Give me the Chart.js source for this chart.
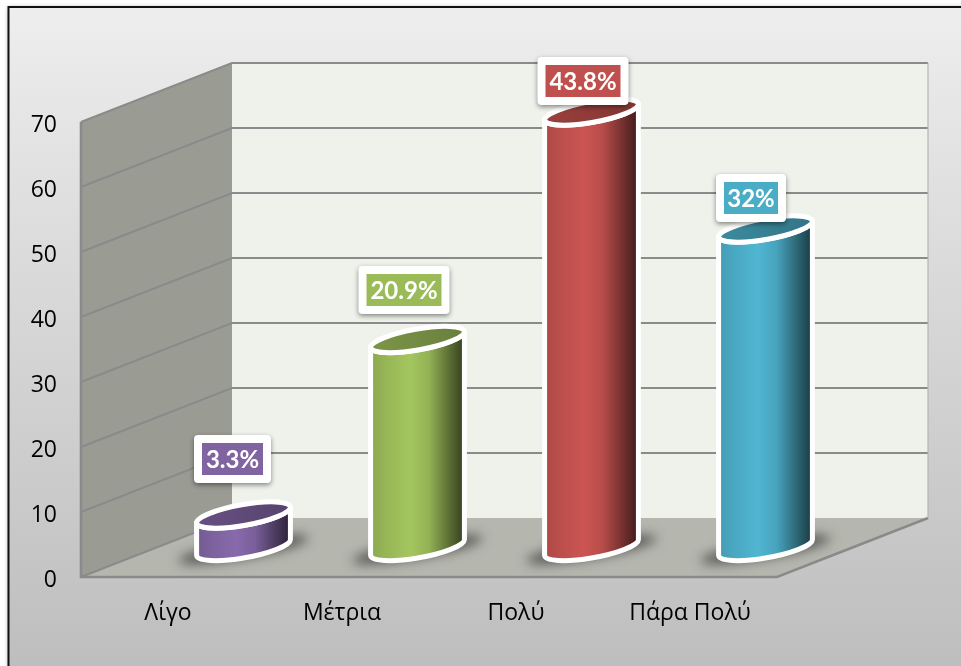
<!DOCTYPE html>
<html>
<head>
<meta charset="utf-8">
<style>html,body{margin:0;padding:0;background:#fff}canvas{display:block}</style>
<script src="https://cdn.jsdelivr.net/npm/chart.js@4"></script>
</head>
<body>
<canvas id="c" width="961" height="666"></canvas>
<script>
const categories = ['Λίγο', 'Μέτρια', 'Πολύ', 'Πάρα Πολύ'];
const counts = [5, 32, 67, 49];
const percentLabels = ['3.3%', '20.9%', '43.8%', '32%'];
const barColors = ['#8064a2', '#9bbb59', '#c0504d', '#4bacc6'];
const yTicks = [0, 10, 20, 30, 40, 50, 60, 70];

// layout of the pseudo-3D box and of the hand-placed labels
const DEPTH_X = 151, DEPTH_Y = 59;
const TILT = 10 * Math.PI / 180, ELL_A = 47.6, ELL_B = 10.4;
const labelBoxes = [
  {dx: -11, dy: -56, w: 77},
  {dx: -13.5, dy: -49.5, w: 91},
  {dx: -8.5, dy: -31, w: 91},
  {dx: -14.5, dy: -31, w: 70}
];

function shade(hex, f) {
  const n = parseInt(hex.slice(1), 16);
  const c = [n >> 16, (n >> 8) & 255, n & 255].map(v => Math.min(255, Math.round(v * f)));
  return `rgb(${c[0]},${c[1]},${c[2]})`;
}

function roundRect(ctx, x, y, w, h, r) {
  ctx.beginPath();
  ctx.roundRect(x, y, w, h, r);
}

const boxPlugin = {
  id: 'box3d',
  beforeDraw(chart) {
    const ctx = chart.ctx, W = chart.width, H = chart.height;
    const {left, right, top, bottom} = chart.chartArea;
    ctx.save();
    ctx.fillStyle = '#fff';
    ctx.fillRect(0, 0, W, H);
    const g = ctx.createLinearGradient(0, 7, 0, H);
    g.addColorStop(0, '#eeeeee');
    g.addColorStop(0.25, '#e1e1e1');
    g.addColorStop(1, '#bebebe');
    ctx.shadowColor = 'rgba(0,0,0,0.35)';
    ctx.shadowBlur = 4;
    ctx.fillStyle = g;
    ctx.fillRect(8, 7, W, H);
    ctx.shadowColor = 'transparent';
    ctx.strokeStyle = '#111';
    ctx.lineWidth = 2;
    ctx.beginPath();
    ctx.moveTo(8.5, H + 2);
    ctx.lineTo(8.5, 7);
    ctx.lineTo(W + 2, 7);
    ctx.stroke();

    const dx = DEPTH_X, dy = DEPTH_Y;
    // left wall
    ctx.fillStyle = '#9a9c94';
    ctx.beginPath();
    ctx.moveTo(left, top); ctx.lineTo(left + dx, top - dy);
    ctx.lineTo(left + dx, bottom - dy); ctx.lineTo(left, bottom); ctx.closePath();
    ctx.fill();
    // back wall
    ctx.fillStyle = '#eff2eb';
    ctx.fillRect(left + dx, top - dy, right - left, bottom - top);
    // floor
    ctx.fillStyle = '#b5b7af';
    ctx.beginPath();
    ctx.moveTo(left, bottom); ctx.lineTo(left + dx, bottom - dy);
    ctx.lineTo(right + dx, bottom - dy); ctx.lineTo(right, bottom); ctx.closePath();
    ctx.fill();

    // grid lines follow the value scale
    const ys = chart.scales.y;
    ctx.strokeStyle = '#8a8a8a';
    ctx.lineJoin = 'miter';
    yTicks.forEach(v => {
      const y = ys.getPixelForValue(v);
      ctx.lineWidth = 2;
      ctx.beginPath();
      ctx.moveTo(left, y);
      ctx.lineTo(left + dx, y - dy);
      if (v > 0) ctx.lineTo(right + dx, y - dy);
      ctx.stroke();
    });
    // frame edges
    ctx.lineWidth = 2.6;
    ctx.beginPath();
    ctx.moveTo(left, top); ctx.lineTo(left, bottom); ctx.lineTo(right, bottom);
    ctx.lineTo(right + dx, bottom - dy);
    ctx.stroke();
    ctx.lineWidth = 1.2;
    ctx.strokeStyle = '#b4b6b0';
    ctx.beginPath();
    ctx.moveTo(right + dx, top - dy); ctx.lineTo(right + dx, bottom - dy);
    ctx.stroke();
    ctx.restore();
  },
  beforeDatasetDraw(chart) {
    const ctx = chart.ctx;
    const els = chart.getDatasetMeta(0).data;
    const t0 = Math.atan(ELL_B / ELL_A * Math.tan(TILT));
    const ext = Math.sqrt(ELL_A * ELL_A * Math.cos(TILT) ** 2 + ELL_B * ELL_B * Math.sin(TILT) ** 2);
    const off = (ELL_A * ELL_A - ELL_B * ELL_B) * Math.sin(TILT) * Math.cos(TILT) / ext;
    els.forEach((el, i) => {
      const cx = el.x + DEPTH_X / 2;
      const yTop = el.y - DEPTH_Y / 2;
      const yBase = el.base - DEPTH_Y / 2;
      const color = barColors[i];
      ctx.save();
      // floor shadow
      ctx.save();
      ctx.filter = 'blur(6px)';
      ctx.fillStyle = 'rgba(50,50,47,0.72)';
      ctx.beginPath();
      ctx.ellipse(cx, yBase + 2, 66, 9, -TILT, 0, Math.PI * 2);
      ctx.fill();
      ctx.restore();

      // body
      const g = ctx.createLinearGradient(cx - ext, 0, cx + ext, 0);
      g.addColorStop(0, shade(color, 0.9));
      g.addColorStop(0.15, shade(color, 0.97));
      g.addColorStop(0.42, shade(color, 1.06));
      g.addColorStop(0.62, shade(color, 0.95));
      g.addColorStop(0.82, shade(color, 0.62));
      g.addColorStop(1, shade(color, 0.33));
      ctx.beginPath();
      ctx.moveTo(cx - ext, yTop + off);
      ctx.lineTo(cx - ext, yBase + off);
      ctx.ellipse(cx, yBase, ELL_A, ELL_B, -TILT, Math.PI + t0, t0, true);
      ctx.lineTo(cx + ext, yTop - off);
      ctx.ellipse(cx, yTop, ELL_A, ELL_B, -TILT, t0, Math.PI + t0, false);
      ctx.closePath();
      ctx.fillStyle = g;
      ctx.fill();
      ctx.strokeStyle = '#fff';
      ctx.lineWidth = 5;
      ctx.lineJoin = 'round';
      ctx.stroke();

      // top cap
      const cap = ctx.createLinearGradient(cx - ext, 0, cx + ext, 0);
      cap.addColorStop(0, shade(color, 0.8));
      cap.addColorStop(1, shade(color, 0.68));
      ctx.beginPath();
      ctx.ellipse(cx, yTop, ELL_A, ELL_B, -TILT, 0, Math.PI * 2);
      ctx.fillStyle = cap;
      ctx.fill();
      ctx.stroke();
      ctx.restore();
    });
    return false;
  },
  afterDatasetsDraw(chart) {
    const ctx = chart.ctx;
    const els = chart.getDatasetMeta(0).data;
    els.forEach((el, i) => {
      const b = labelBoxes[i];
      const cx = el.x + DEPTH_X / 2 + b.dx;
      const cy = el.y - DEPTH_Y / 2 + b.dy;
      const w = b.w, h = 48;
      ctx.save();
      ctx.shadowColor = 'rgba(0,0,0,0.45)';
      ctx.shadowBlur = 5;
      ctx.shadowOffsetY = 2;
      ctx.fillStyle = '#fff';
      roundRect(ctx, cx - w / 2, cy - h / 2, w, h, 4);
      ctx.fill();
      ctx.restore();
      ctx.fillStyle = barColors[i];
      ctx.fillRect(cx - w / 2 + 8, cy - h / 2 + 8, w - 16, h - 16);
      ctx.fillStyle = '#fff';
      ctx.font = 'bold 24px Lato, "Open Sans", sans-serif';
      ctx.textAlign = 'center';
      ctx.textBaseline = 'middle';
      ctx.fillText(percentLabels[i], cx, cy + 1);
    });
  }
};

new Chart(document.getElementById('c'), {
  type: 'bar',
  data: {
    labels: categories,
    datasets: [{
      data: counts,
      backgroundColor: barColors,
      barPercentage: 0.523,
      categoryPercentage: 1
    }]
  },
  options: {
    responsive: false,
    animation: false,
    events: [],
    layout: {padding: {top: 122, right: 184, bottom: 0, left: 0}},
    plugins: {legend: {display: false}, tooltip: {enabled: false}, title: {display: false}},
    scales: {
      x: {
        afterFit(s) { s.height = 89; },
        grid: {display: false, drawTicks: false},
        border: {display: false},
        ticks: {color: '#000', font: {family: '"Open Sans"', size: 23}, padding: 23, maxRotation: 0, autoSkip: false}
      },
      y: {
        min: 0, max: 70,
        afterFit(s) { s.width = 81; },
        afterBuildTicks(s) { s.ticks = yTicks.map(v => ({value: v})); },
        grid: {display: false, drawTicks: false},
        border: {display: false},
        ticks: {color: '#000', font: {family: '"Open Sans"', size: 23}, padding: 24, labelOffset: 3}
      }
    }
  },
  plugins: [boxPlugin]
});
</script>
</body>
</html>
